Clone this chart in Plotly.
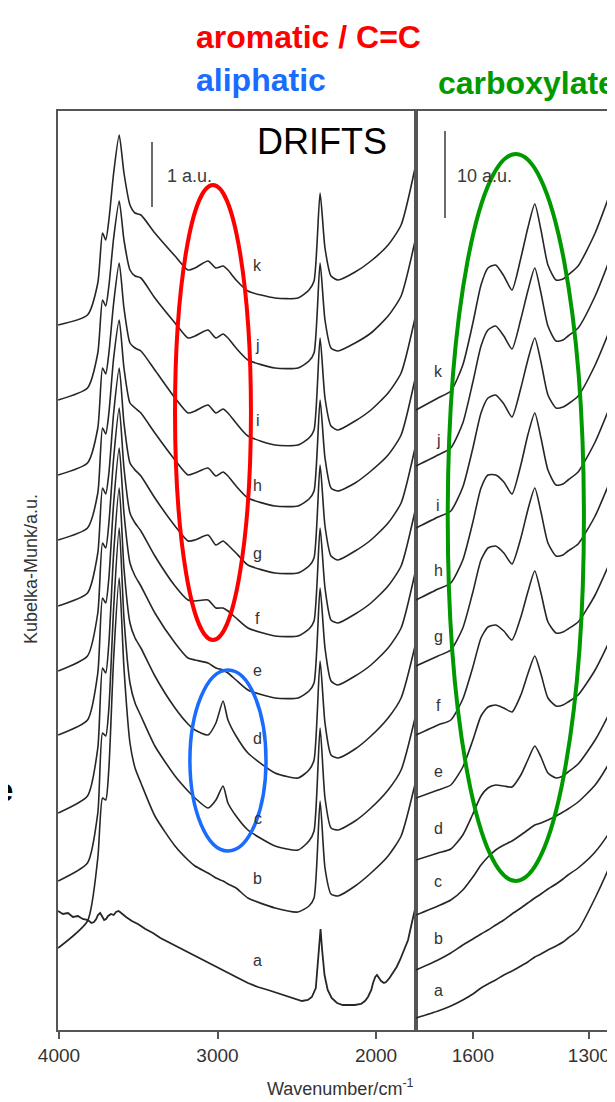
import plotly.graph_objects as go

# ---------------- data ----------------
# Left panel: wavenumbers (cm-1) shared by spectra b..k
wn_left = [4005, 3820, 3755, 3725, 3705, 3685, 3655, 3620, 3590, 3552, 3520, 3483, 3395, 3268,
           3186, 3142, 3060, 3010, 2965, 2934, 2883, 2808, 2637, 2492, 2423, 2391, 2353, 2322,
           2284, 2240, 2132, 2032, 1924, 1842, 1754]

# Kubelka-Munk signal (stacked, arbitrary units; 65 units = 1 a.u.)
km_left = {
    "k": [705, 715, 747, 797, 790, 810, 857, 895, 857, 825, 817, 815, 797, 774, 760, 762, 769, 762,
          764, 760, 750, 739, 732, 732, 740, 749, 837, 782, 754, 750, 758, 769, 785, 805, 862],
    "j": [630, 642, 677, 730, 724, 744, 792, 829, 790, 760, 754, 752, 732, 707, 692, 694, 700, 692,
          696, 692, 682, 670, 662, 662, 669, 677, 767, 710, 682, 679, 687, 697, 714, 734, 789],
    "i": [555, 567, 602, 662, 656, 677, 727, 767, 722, 687, 682, 679, 660, 632, 617, 619, 625, 617,
          621, 617, 607, 594, 585, 585, 592, 600, 692, 632, 604, 600, 609, 620, 637, 657, 712],
    "h": [490, 502, 537, 602, 596, 617, 672, 710, 662, 627, 622, 617, 597, 570, 555, 557, 562, 554,
          558, 554, 544, 532, 524, 524, 531, 539, 630, 572, 542, 539, 547, 559, 575, 595, 651],
    "g": [424, 437, 477, 542, 536, 557, 617, 662, 607, 567, 560, 554, 532, 504, 489, 490, 495, 485,
          489, 485, 477, 465, 457, 457, 464, 472, 565, 504, 474, 470, 479, 490, 507, 527, 582],
    "f": [359, 374, 417, 487, 482, 507, 572, 622, 562, 517, 507, 499, 474, 444, 430, 429, 430, 422,
          422, 419, 412, 402, 394, 394, 401, 409, 502, 442, 410, 407, 416, 427, 444, 464, 519],
    "e": [295, 310, 357, 432, 427, 452, 527, 582, 517, 467, 454, 444, 417, 387, 372, 370, 367, 362,
          360, 357, 350, 340, 332, 332, 339, 347, 442, 382, 349, 345, 354, 365, 382, 402, 457],
    "d": [217, 234, 282, 362, 357, 387, 477, 542, 462, 407, 392, 382, 354, 322, 306, 300, 295, 307,
          329, 310, 294, 277, 257, 252, 260, 270, 369, 307, 275, 272, 281, 294, 312, 332, 384],
    "c": [149, 167, 217, 297, 294, 322, 422, 502, 412, 347, 327, 314, 284, 254, 239, 232, 222, 230,
          244, 227, 214, 200, 184, 180, 189, 199, 302, 232, 202, 200, 209, 222, 240, 260, 312],
    "b": [82, 109, 172, 232, 230, 262, 372, 452, 362, 287, 262, 247, 214, 184, 170, 164, 157, 152,
          149, 146, 142, 132, 122, 118, 124, 132, 229, 162, 136, 134, 144, 157, 174, 194, 246],
}

# spectrum a (raw support) has its own, denser sampling
wn_a = [4006, 3975, 3943, 3912, 3880, 3850, 3817, 3795, 3779, 3765, 3754, 3740, 3729, 3715, 3703,
        3690, 3672, 3655, 3640, 3625, 3615, 3600, 3577, 3540, 3502, 3455, 3407, 3360, 3312, 3250,
        3186, 3120, 3060, 3000, 2934, 2870, 2808, 2745, 2681, 2620, 2555, 2510, 2467, 2430, 2405,
        2380, 2362, 2350, 2340, 2325, 2305, 2280, 2246, 2210, 2177, 2135, 2095, 2070, 2051, 2030,
        2019, 2005, 1994, 1980, 1968, 1950, 1937, 1915, 1893, 1870, 1849, 1825, 1798, 1773, 1748]
km_a = [119, 116, 117, 113, 114, 111, 110, 107, 108, 111, 115, 117, 114, 110, 111,
        114, 116, 115, 118, 119, 118, 116, 113, 109, 106, 101, 97, 92, 88, 83,
        78, 72, 67, 62, 57, 52, 47, 43, 40, 37, 34, 31, 29, 30, 33,
        42, 75, 101, 80, 55, 40, 32, 27, 25, 25, 25, 26, 29, 33, 40,
        47, 53, 55, 52, 49, 47, 48, 52, 57, 63, 70, 79, 90, 108, 125]

# Right panel (carboxylate region)
wn_right = [1747, 1690, 1657, 1626, 1600, 1579, 1561, 1541, 1520, 1499, 1476, 1458, 1440, 1424,
            1406, 1385, 1367, 1354, 1328, 1284, 1243, 1212]
# 87 units = 10 a.u.
km_right = {
    "k": [620, 632, 639, 665, 707, 745, 762, 765, 754, 740, 772, 802, 826, 800, 765, 750, 751, 755, 764, 797, 839, 872],
    "j": [564, 575, 582, 607, 648, 684, 700, 704, 694, 681, 711, 739, 762, 737, 704, 689, 690, 694, 702, 734, 774, 807],
    "i": [502, 513, 519, 543, 582, 617, 632, 635, 626, 613, 642, 670, 692, 668, 635, 622, 623, 626, 634, 665, 703, 734],
    "h": [430, 441, 447, 470, 508, 542, 555, 555, 548, 536, 565, 595, 617, 592, 560, 545, 546, 550, 558, 588, 626, 657],
    "g": [364, 374, 380, 402, 438, 470, 482, 484, 477, 466, 492, 520, 542, 518, 487, 474, 475, 479, 486, 514, 551, 580],
    "f": [295, 305, 310, 331, 363, 392, 403, 405, 399, 390, 413, 438, 459, 437, 408, 397, 398, 401, 408, 435, 470, 497],
    "e": [232, 240, 245, 263, 290, 314, 323, 325, 322, 318, 335, 356, 374, 356, 332, 324, 325, 328, 335, 360, 392, 418],
    "d": [170, 177, 181, 195, 216, 234, 242, 245, 244, 243, 255, 270, 284, 273, 257, 252, 254, 258, 266, 290, 320, 345],
    "c": [115, 124, 130, 140, 153, 165, 173, 180, 185, 189, 195, 200, 205, 207, 210, 214, 218, 221, 228, 245, 270, 293],
    "b": [60, 70, 77, 85, 91, 96, 100, 105, 110, 116, 122, 127, 132, 136, 141, 146, 151, 155, 162, 178, 200, 222],
    "a": [12, 19, 24, 30, 36, 42, 46, 50, 55, 59, 64, 68, 73, 76, 80, 84, 88, 92, 100, 132, 167, 197],
}

# curve labels: signal level at which each letter sits
labels_left = {"k": 765, "j": 685, "i": 610, "h": 545, "g": 477, "f": 412, "e": 360,
               "d": 292, "c": 212, "b": 152, "a": 70}
label_left_wn = 2745
labels_right = {"k": 659, "j": 590, "i": 525, "h": 460, "g": 394, "f": 325, "e": 259,
                "d": 202, "c": 149, "b": 92, "a": 40}
label_right_wn = 1690

# ---------------- figure ----------------
W, H = 615, 1102
ML, MR, MT, MB = 50, 0, 103, 80
PW, PH = W - ML - MR, H - MT - MB
split = (408 - ML) / PW

LINE = "#262626"
AX = "#555555"
FONT = "Liberation Sans, Arial, sans-serif"


def px(xp):
    return (xp - ML) / PW


def py(yp):
    return (H - MB - yp) / PH


fig = go.Figure()
for name, ys in km_left.items():
    fig.add_trace(go.Scatter(x=wn_left, y=ys, mode="lines", xaxis="x", yaxis="y",
                             line=dict(color=LINE, width=1.6, shape="spline", smoothing=0.6),
                             hoverinfo="skip", showlegend=False))
fig.add_trace(go.Scatter(x=wn_a, y=km_a, mode="lines", xaxis="x", yaxis="y",
                         line=dict(color=LINE, width=1.8), hoverinfo="skip", showlegend=False))
for name, ys in km_right.items():
    fig.add_trace(go.Scatter(x=wn_right, y=ys, mode="lines", xaxis="x2", yaxis="y2",
                             line=dict(color=LINE, width=1.6, shape="spline", smoothing=0.6),
                             hoverinfo="skip", showlegend=False))

# scale bars
fig.add_trace(go.Scatter(x=[3413, 3413], y=[823, 888], mode="lines", xaxis="x", yaxis="y",
                         line=dict(color="#6a6a6a", width=2), hoverinfo="skip", showlegend=False))
fig.add_trace(go.Scatter(x=[1672, 1672], y=[812, 899], mode="lines", xaxis="x2", yaxis="y2",
                         line=dict(color="#6a6a6a", width=2), hoverinfo="skip", showlegend=False))

ann = []
lab_font = dict(family=FONT, size=16, color="#333")
for k, v in labels_left.items():
    ann.append(dict(x=label_left_wn, y=v, xref="x", yref="y", text=k, showarrow=False,
                    font=lab_font, xanchor="center", yanchor="middle"))
for k, v in labels_right.items():
    ann.append(dict(x=label_right_wn, y=v, xref="x2", yref="y2", text=k, showarrow=False,
                    font=lab_font, xanchor="center", yanchor="middle"))

ann += [
    dict(x=3330, y=854, xref="x", yref="y", text="1 a.u.", showarrow=False, xanchor="left",
         yanchor="middle", font=dict(family=FONT, size=18, color="#3a3a3a")),
    dict(x=1646, y=854, xref="x2", yref="y2", text="10 a.u.", showarrow=False, xanchor="left",
         yanchor="middle", font=dict(family=FONT, size=18, color="#3a3a3a")),
    dict(x=2341, y=889, xref="x", yref="y", text="DRIFTS", showarrow=False, xanchor="center",
         yanchor="middle", font=dict(family=FONT, size=36, color="#000")),
    dict(x=px(186), y=py(29), xref="paper", yref="paper",
         text="<b>aromatic / C=C</b>", showarrow=False, xanchor="left", yanchor="middle",
         font=dict(family=FONT, size=32, color="#ff0000")),
    dict(x=px(186), y=py(72), xref="paper", yref="paper",
         text="<b>aliphatic</b>", showarrow=False, xanchor="left", yanchor="middle",
         font=dict(family=FONT, size=32, color="#1a6cff")),
    dict(x=px(428), y=py(75), xref="paper", yref="paper",
         text="<b>carboxylate</b>", showarrow=False, xanchor="left", yanchor="middle",
         font=dict(family=FONT, size=32, color="#009900")),
    dict(x=px(332), y=py(1079), xref="paper", yref="paper",
         text="Wavenumber/cm<sup>-1</sup>", showarrow=False, xanchor="center", yanchor="middle",
         font=dict(family=FONT, size=18, color="#333")),
    dict(x=px(23), y=py(561), xref="paper", yref="paper",
         text="Kubelka-Munk/a.u.", showarrow=False, textangle=-90, xanchor="center",
         yanchor="middle", font=dict(family=FONT, size=18, color="#333")),
    dict(x=px(7), y=py(782), xref="paper", yref="paper",
         text="<b>e</b>", showarrow=False, xanchor="right", yanchor="middle",
         font=dict(family=FONT, size=31, color="#000")),
]

shapes = [
    dict(type="circle", xref="x", yref="y", x0=3268, x1=2789, y0=390, y1=845,
         line=dict(color="#ff0000", width=4)),
    dict(type="circle", xref="x", yref="y", x0=3174, x1=2694, y0=179, y1=360,
         line=dict(color="#1a6cff", width=3.5)),
    dict(type="circle", xref="x2", yref="y2", x0=1665, x1=1313, y0=149, y1=876,
         line=dict(color="#009900", width=4)),
]

axis_common = dict(showgrid=False, zeroline=False, showline=True, linecolor=AX, linewidth=1.6,
                   ticks="outside", ticklen=7, tickwidth=1.5, tickcolor=AX,
                   tickfont=dict(family=FONT, size=19, color="#333"))

fig.update_layout(
    width=W, height=H, margin=dict(l=ML, r=MR, t=MT, b=MB),
    paper_bgcolor="white", plot_bgcolor="white",
    xaxis=dict(domain=[0, split], range=[4006, 1748], tickvals=[4000, 3000, 2000],
               mirror=True, anchor="y", **axis_common),
    xaxis2=dict(domain=[split, 1], range=[1747, 1212], tickvals=[1600, 1300],
                mirror=True, anchor="y2", **axis_common),
    yaxis=dict(domain=[0, 1], range=[0, 919], showgrid=False, zeroline=False, showline=True,
               mirror=True, linecolor=AX, linewidth=1.6, showticklabels=False, ticks="",
               anchor="x"),
    yaxis2=dict(domain=[0, 1], range=[0, 919], showgrid=False, zeroline=False, showline=True,
                mirror=False, linecolor=AX, linewidth=1.6, showticklabels=False, ticks="",
                anchor="x2"),
    annotations=ann, shapes=shapes, showlegend=False,
)

fig.write_html("out.html", config={"displayModeBar": False})
